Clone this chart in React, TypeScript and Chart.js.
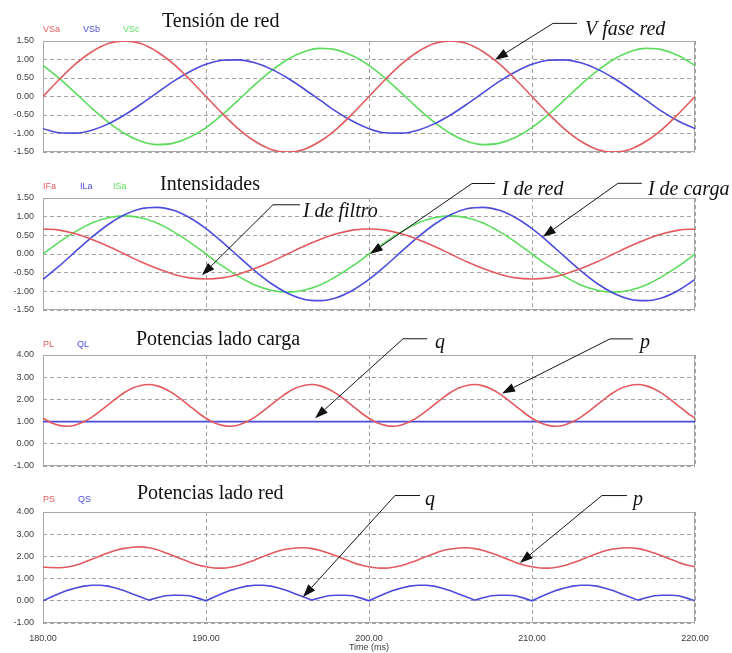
import React, { useEffect, useRef } from "react";
import { Chart, registerables } from "chart.js";

Chart.register(...registerables);

// ---------- data ----------
const TIME_MS = [
  180, 181, 182, 183, 184, 185, 186, 187, 188, 189, 190, 191, 192, 193, 194, 195, 196, 197, 198, 199,
  200, 201, 202, 203, 204, 205, 206, 207, 208, 209, 210, 211, 212, 213, 214, 215, 216, 217, 218, 219, 220,
];

const TIME_FINE_MS = [
  180, 180.5, 181, 181.5, 182, 182.5, 183, 183.5, 184, 184.5, 185, 185.5, 186, 186.5, 187, 187.5, 188, 188.5, 189, 189.5,
  190, 190.5, 191, 191.5, 192, 192.5, 193, 193.5, 194, 194.5, 195, 195.5, 196, 196.5, 197, 197.5, 198, 198.5, 199, 199.5,
  200, 200.5, 201, 201.5, 202, 202.5, 203, 203.5, 204, 204.5, 205, 205.5, 206, 206.5, 207, 207.5, 208, 208.5, 209, 209.5,
  210, 210.5, 211, 211.5, 212, 212.5, 213, 213.5, 214, 214.5, 215, 215.5, 216, 216.5, 217, 217.5, 218, 218.5, 219, 219.5,
  220,
];

const VSA = [
  0.0, 0.46, 0.88, 1.21, 1.43, 1.5, 1.43, 1.21, 0.88, 0.46, 0.0, -0.46, -0.88, -1.21, -1.43, -1.5, -1.43, -1.21, -0.88, -0.46,
  0.0, 0.46, 0.88, 1.21, 1.43, 1.5, 1.43, 1.21, 0.88, 0.46, 0.0, -0.46, -0.88, -1.21, -1.43, -1.5, -1.43, -1.21, -0.88, -0.46, 0.0,
];
const VSB = [
  -0.87, -0.98, -0.99, -0.91, -0.74, -0.5, -0.21, 0.1, 0.41, 0.67, 0.87, 0.98, 0.99, 0.91, 0.74, 0.5, 0.21, -0.1, -0.41, -0.67,
  -0.87, -0.98, -0.99, -0.91, -0.74, -0.5, -0.21, 0.1, 0.41, 0.67, 0.87, 0.98, 0.99, 0.91, 0.74, 0.5, 0.21, -0.1, -0.41, -0.67, -0.87,
];
const VSC = [
  0.84, 0.49, 0.09, -0.32, -0.69, -1.0, -1.21, -1.3, -1.26, -1.1, -0.84, -0.49, -0.09, 0.32, 0.69, 1.0, 1.21, 1.3, 1.26, 1.1,
  0.84, 0.49, 0.09, -0.32, -0.69, -1.0, -1.21, -1.3, -1.26, -1.1, -0.84, -0.49, -0.09, 0.32, 0.69, 1.0, 1.21, 1.3, 1.26, 1.1, 0.84,
];

const IFA = [
  0.67, 0.64, 0.54, 0.39, 0.21, 0.0, -0.21, -0.39, -0.54, -0.64, -0.67, -0.64, -0.54, -0.39, -0.21, 0.0, 0.21, 0.39, 0.54, 0.64,
  0.67, 0.64, 0.54, 0.39, 0.21, 0.0, -0.21, -0.39, -0.54, -0.64, -0.67, -0.64, -0.54, -0.39, -0.21, 0.0, 0.21, 0.39, 0.54, 0.64, 0.67,
];
const ILA = [
  -0.68, -0.32, 0.07, 0.45, 0.79, 1.05, 1.21, 1.25, 1.17, 0.97, 0.68, 0.32, -0.07, -0.45, -0.79, -1.05, -1.21, -1.25, -1.17, -0.97,
  -0.68, -0.32, 0.07, 0.45, 0.79, 1.05, 1.21, 1.25, 1.17, 0.97, 0.68, 0.32, -0.07, -0.45, -0.79, -1.05, -1.21, -1.25, -1.17, -0.97, -0.68,
];
const ISA = [
  0.0, 0.32, 0.6, 0.83, 0.97, 1.02, 0.97, 0.83, 0.6, 0.32, 0.0, -0.32, -0.6, -0.83, -0.97, -1.02, -0.97, -0.83, -0.6, -0.32,
  0.0, 0.32, 0.6, 0.83, 0.97, 1.02, 0.97, 0.83, 0.6, 0.32, 0.0, -0.32, -0.6, -0.83, -0.97, -1.02, -0.97, -0.83, -0.6, -0.32, 0.0,
];

const PL = [
  1.15, 0.95, 0.83, 0.79, 0.85, 0.99, 1.2, 1.47, 1.76, 2.05, 2.31, 2.51, 2.63, 2.67, 2.61, 2.47, 2.26, 1.99, 1.7, 1.41,
  1.15, 0.95, 0.83, 0.79, 0.85, 0.99, 1.2, 1.47, 1.76, 2.05, 2.31, 2.51, 2.63, 2.67, 2.61, 2.47, 2.26, 1.99, 1.7, 1.41,
  1.15, 0.95, 0.83, 0.79, 0.85, 0.99, 1.2, 1.47, 1.76, 2.05, 2.31, 2.51, 2.63, 2.67, 2.61, 2.47, 2.26, 1.99, 1.7, 1.41,
  1.15, 0.95, 0.83, 0.79, 0.85, 0.99, 1.2, 1.47, 1.76, 2.05, 2.31, 2.51, 2.63, 2.67, 2.61, 2.47, 2.26, 1.99, 1.7, 1.41,
  1.15,
];
const QL = [
  1.0, 1.0, 1.0, 1.0, 1.0, 1.0, 1.0, 1.0, 1.0, 1.0, 1.0, 1.0, 1.0, 1.0, 1.0, 1.0, 1.0, 1.0, 1.0, 1.0,
  1.0, 1.0, 1.0, 1.0, 1.0, 1.0, 1.0, 1.0, 1.0, 1.0, 1.0, 1.0, 1.0, 1.0, 1.0, 1.0, 1.0, 1.0, 1.0, 1.0, 1.0,
];

const PS = [
  1.52, 1.5, 1.49, 1.52, 1.6, 1.73, 1.87, 2.02, 2.16, 2.28, 2.36, 2.41, 2.43, 2.39, 2.3, 2.17, 2.03, 1.88, 1.74, 1.61,
  1.53, 1.48, 1.47, 1.51, 1.59, 1.71, 1.84, 1.99, 2.13, 2.25, 2.33, 2.38, 2.39, 2.35, 2.27, 2.15, 2.02, 1.87, 1.73, 1.61,
  1.53, 1.48, 1.47, 1.51, 1.59, 1.71, 1.84, 1.99, 2.13, 2.25, 2.33, 2.38, 2.39, 2.35, 2.27, 2.15, 2.02, 1.87, 1.73, 1.61,
  1.53, 1.48, 1.47, 1.51, 1.59, 1.71, 1.84, 1.99, 2.13, 2.25, 2.33, 2.38, 2.39, 2.35, 2.27, 2.15, 2.02, 1.87, 1.73, 1.61,
  1.53,
];
const QS = [
  0.0, 0.17, 0.33, 0.47, 0.58, 0.66, 0.7, 0.7, 0.66, 0.57, 0.45, 0.31, 0.17, 0.03, 0.14, 0.23, 0.25, 0.25, 0.23, 0.12,
  0.0, 0.17, 0.33, 0.47, 0.58, 0.66, 0.7, 0.7, 0.66, 0.57, 0.45, 0.31, 0.17, 0.03, 0.14, 0.23, 0.25, 0.25, 0.23, 0.12,
  0.0, 0.17, 0.33, 0.47, 0.58, 0.66, 0.7, 0.7, 0.66, 0.57, 0.45, 0.31, 0.17, 0.03, 0.14, 0.23, 0.25, 0.25, 0.23, 0.12,
  0.0, 0.17, 0.33, 0.47, 0.58, 0.66, 0.7, 0.7, 0.66, 0.57, 0.45, 0.31, 0.17, 0.03, 0.14, 0.23, 0.25, 0.25, 0.23, 0.12,
  0.0,
];

const X_TICKS = [180, 190, 200, 210, 220];
const Y_TICKS_V = [-1.5, -1.0, -0.5, 0.0, 0.5, 1.0, 1.5];
const Y_TICKS_P = [-1, 0, 1, 2, 3, 4];

// ---------- styling ----------
const RED = "#e25a5e";
const BLUE = "#4c4cdc";
const GREEN = "#5cdc5c";
const GRID = "#a2a2a2";
const FRAME = "#a8a8a8";
const TICK_COLOR = "#3c3c3c";
const SANS = '"Liberation Sans", Arial, sans-serif';
const SERIF = '"Liberation Serif", "Times New Roman", serif';

type Series = { label: string; color: string; x: number[]; y: number[]; linear?: boolean };
type Ann = { t: number; v: number; dx: number; dy: number; len: number; gap: number; base: number; text: string };
type Panel = {
  top: number;
  height: number;
  plotTop: number;
  plotBottom: number;
  title: string;
  titleX: number;
  titleY: number;
  legendY: number;
  legendX: number[];
  yMin: number;
  yMax: number;
  yTicks: number[];
  series: Series[];
  anns: Ann[];
  showX: boolean;
};

const PANELS: Panel[] = [
  {
    top: 0, height: 168, plotTop: 41, plotBottom: 152,
    title: "Tensión de red", titleX: 162, titleY: 27,
    legendY: 30, legendX: [43, 83, 123],
    yMin: -1.5, yMax: 1.5, yTicks: Y_TICKS_V,
    series: [
      { label: "VSa", color: RED, x: TIME_MS, y: VSA },
      { label: "VSb", color: BLUE, x: TIME_MS, y: VSB },
      { label: "VSc", color: GREEN, x: TIME_MS, y: VSC },
    ],
    anns: [{ t: 207.73, v: 0.99, dx: 58, dy: -37, len: 24, gap: 8, base: 12, text: "V fase red" }],
    showX: false,
  },
  {
    top: 160, height: 166, plotTop: 38, plotBottom: 150,
    title: "Intensidades", titleX: 160, titleY: 30,
    legendY: 27, legendX: [43, 80, 113],
    yMin: -1.5, yMax: 1.5, yTicks: Y_TICKS_V,
    series: [
      { label: "IFa", color: RED, x: TIME_MS, y: IFA },
      { label: "ILa", color: BLUE, x: TIME_MS, y: ILA },
      { label: "ISa", color: GREEN, x: TIME_MS, y: ISA },
    ],
    anns: [
      { t: 189.75, v: -0.57, dx: 71, dy: -71, len: 27, gap: 3, base: 13, text: "I de filtro" },
      { t: 200.06, v: 0.0, dx: 102, dy: -71, len: 23, gap: 7, base: 12, text: "I de red" },
      { t: 210.67, v: 0.46, dx: 75, dy: -54, len: 24, gap: 6, base: 12, text: "I de carga" },
    ],
    showX: false,
  },
  {
    top: 317, height: 165, plotTop: 38, plotBottom: 149,
    title: "Potencias lado carga", titleX: 136, titleY: 28,
    legendY: 28, legendX: [43, 77],
    yMin: -1, yMax: 4, yTicks: Y_TICKS_P,
    series: [
      { label: "PL", color: RED, x: TIME_FINE_MS, y: PL },
      { label: "QL", color: BLUE, x: TIME_MS, y: QL },
    ],
    anns: [
      { t: 196.69, v: 1.15, dx: 88, dy: -80, len: 24, gap: 8, base: 10, text: "q" },
      { t: 208.16, v: 2.27, dx: 108, dy: -55, len: 23, gap: 7, base: 10, text: "p" },
    ],
    showX: false,
  },
  {
    top: 474, height: 179, plotTop: 38, plotBottom: 149,
    title: "Potencias lado red", titleX: 137, titleY: 25,
    legendY: 26, legendX: [43, 78],
    yMin: -1, yMax: 4, yTicks: Y_TICKS_P,
    series: [
      { label: "PS", color: RED, x: TIME_FINE_MS, y: PS },
      { label: "QS", color: BLUE, x: TIME_FINE_MS, y: QS, linear: true },
    ],
    anns: [
      { t: 195.95, v: 0.17, dx: 92, dy: -102, len: 25, gap: 5, base: 10, text: "q" },
      { t: 209.26, v: 1.7, dx: 82, dy: -68, len: 25, gap: 6, base: 10, text: "p" },
    ],
    showX: true,
  },
];

function makeDeco(p: Panel) {
  return {
    id: "panelDeco",
    beforeDatasetsDraw(chart: any) {
      const { ctx, chartArea: a } = chart;
      ctx.save();
      ctx.strokeStyle = FRAME;
      ctx.lineWidth = 1;
      ctx.strokeRect(a.left + 0.5, a.top + 0.5, a.right - a.left - 1, a.bottom - a.top - 1);
      ctx.restore();
    },
    afterDraw(chart: any) {
      const ctx: CanvasRenderingContext2D = chart.ctx;
      const xs = chart.scales.x;
      const ys = chart.scales.y;
      ctx.save();
      // title
      ctx.fillStyle = "#111";
      ctx.font = `20px ${SERIF}`;
      ctx.textAlign = "left";
      ctx.textBaseline = "alphabetic";
      ctx.fillText(p.title, p.titleX, p.titleY);
      // series labels
      ctx.font = `9px ${SANS}`;
      ctx.textBaseline = "middle";
      p.series.forEach((s, i) => {
        ctx.fillStyle = s.color;
        ctx.fillText(s.label, p.legendX[i], p.legendY);
      });
      // annotations
      ctx.strokeStyle = "#151515";
      ctx.fillStyle = "#111";
      ctx.lineWidth = 1;
      ctx.textBaseline = "alphabetic";
      ctx.font = `italic 20px ${SERIF}`;
      p.anns.forEach((an) => {
        const tx = xs.getPixelForValue(an.t);
        const ty = ys.getPixelForValue(an.v);
        const ex = tx + an.dx;
        const ey = ty + an.dy;
        const ang = Math.atan2(ty - ey, tx - ex);
        const L = 13;
        const W = 4.5;
        const bx = tx - L * Math.cos(ang);
        const by = ty - L * Math.sin(ang);
        ctx.beginPath();
        ctx.moveTo(ex + an.len, ey + 0.5);
        ctx.lineTo(ex, ey + 0.5);
        ctx.lineTo(bx, by);
        ctx.stroke();
        ctx.beginPath();
        ctx.moveTo(tx, ty);
        ctx.lineTo(bx + W * Math.sin(ang), by - W * Math.cos(ang));
        ctx.lineTo(bx - W * Math.sin(ang), by + W * Math.cos(ang));
        ctx.closePath();
        ctx.fill();
        ctx.fillText(an.text, ex + an.len + an.gap, ey + an.base);
      });
      ctx.restore();
    },
  };
}

function PanelChart({ p }: { p: Panel }) {
  const ref = useRef<HTMLCanvasElement | null>(null);
  useEffect(() => {
    const canvas = ref.current;
    if (!canvas) return;
    const chart = new Chart(canvas, {
      type: "line",
      data: {
        datasets: p.series.map((s) => ({
          label: s.label,
          data: s.x.map((t, i) => ({ x: t, y: s.y[i] })),
          borderColor: s.color,
          backgroundColor: s.color,
          borderWidth: 1.6,
          pointRadius: 0,
          fill: false,
          tension: 0,
          cubicInterpolationMode: s.linear ? "default" : "monotone",
        })),
      } as any,
      options: {
        responsive: false,
        animation: false,
        events: [],
        layout: { padding: { top: p.plotTop, left: 0, right: 37, bottom: 0 } },
        plugins: {
          legend: { display: false },
          tooltip: { enabled: false },
          title: { display: false },
        },
        scales: {
          x: {
            type: "linear",
            min: 180,
            max: 220,
            afterBuildTicks: (s: any) => {
              s.ticks = X_TICKS.map((v) => ({ value: v }));
            },
            afterFit: (s: any) => {
              s.height = p.height - p.plotBottom;
            },
            grid: { color: GRID, lineWidth: 1, drawTicks: false },
            border: { display: false, dash: [4, 3] },
            ticks: {
              display: p.showX,
              padding: 10,
              color: TICK_COLOR,
              font: { size: 9, family: SANS },
              maxRotation: 0,
              callback: (v: any) => Number(v).toFixed(2),
            },
            title: {
              display: p.showX,
              text: "Time (ms)",
              color: TICK_COLOR,
              font: { size: 9, family: SANS },
              padding: { top: 0, bottom: 0 },
            },
          },
          y: {
            type: "linear",
            min: p.yMin,
            max: p.yMax,
            afterBuildTicks: (s: any) => {
              s.ticks = p.yTicks.map((v) => ({ value: v }));
            },
            afterFit: (s: any) => {
              s.width = 43;
            },
            grid: { color: GRID, lineWidth: 1, drawTicks: false },
            border: { display: false, dash: [4, 3] },
            ticks: {
              padding: 9,
              color: TICK_COLOR,
              font: { size: 9, family: SANS },
              callback: (v: any) => Number(v).toFixed(2),
            },
          },
        },
      } as any,
      plugins: [makeDeco(p)],
    });
    return () => chart.destroy();
  }, [p]);
  return (
    <canvas
      ref={ref}
      width={732}
      height={p.height}
      style={{ position: "absolute", left: 0, top: p.top, width: 732, height: p.height }}
    />
  );
}

export default function App() {
  return (
    <div style={{ position: "absolute", left: 0, top: 0, width: 732, height: 653, background: "#ffffff" }}>
      {PANELS.map((p, i) => (
        <PanelChart key={i} p={p} />
      ))}
    </div>
  );
}
